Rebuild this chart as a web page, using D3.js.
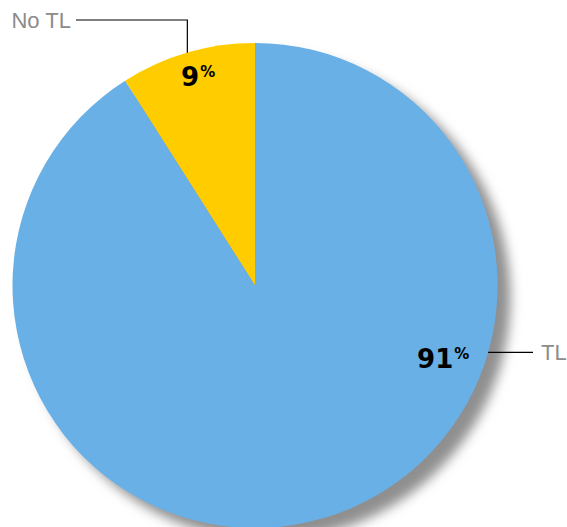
<!DOCTYPE html>
<html>
<head>
<meta charset="utf-8">
<script src="https://cdn.jsdelivr.net/npm/d3@7"></script>
<style>
  html, body { margin: 0; padding: 0; background: #fff; }
  svg { display: block; }
</style>
</head>
<body>
<svg id="chart" width="567" height="527"></svg>
<script>
// Share of responses
const categories = ["No TL", "TL"];
const values = [9, 91];
const colors = ["#FFCC00", "#68B0E5"];

const svg = d3.select("#chart");
const cx = 255, cy = 285.5, R = 242.5;

const defs = svg.append("defs");
const f = defs.append("filter").attr("id", "shadow")
  .attr("x", "-10%").attr("y", "-10%").attr("width", "130%").attr("height", "130%");
f.append("feDropShadow")
  .attr("dx", 13).attr("dy", 12).attr("stdDeviation", 6)
  .attr("flood-color", "#8f8f8f").attr("flood-opacity", 1);

const data = categories.map((c, i) => ({ name: c, value: values[i], color: colors[i] }));

// first slice ends at 12 o'clock, counter-clockwise from there
const total = d3.sum(values);
const startA = -2 * Math.PI * values[0] / total;
const pie = d3.pie().value(d => d.value).sort(null)
  .startAngle(startA).endAngle(startA + 2 * Math.PI);
const arcs = pie(data);
const arc = d3.arc().innerRadius(0).outerRadius(R);

const g = svg.append("g").attr("transform", `translate(${cx},${cy})`);
g.append("g").attr("filter", "url(#shadow)")
  .selectAll("path").data(arcs).join("path")
  .attr("d", arc)
  .attr("fill", d => d.data.color);

// label placement (radians clockwise from 12 o'clock)
const leaderAngle = [(arcs[0].startAngle + arcs[0].endAngle) / 2, 1.85];
const valueAngle = [-0.265, 1.943];
const valueRadius = [217, 202];
const polar = (a, r) => [Math.sin(a) * r, -Math.cos(a) * r];

arcs.forEach((d, i) => {
  const [vx, vy] = polar(valueAngle[i], valueRadius[i]);
  const t = g.append("text")
    .attr("x", vx).attr("y", vy + 9.5)
    .attr("text-anchor", "middle")
    .attr("font-family", "DejaVu Sans, sans-serif")
    .attr("fill", "#000");
  t.append("tspan").attr("font-size", 26).attr("font-weight", "bold")
    .text(d.data.value);
  t.append("tspan").attr("font-size", 15).attr("font-weight", "bold")
    .attr("dx", 1).attr("dy", -9).text("%");

  const a = leaderAngle[i];
  const [ex, ey] = polar(a, R);
  let pts, tx, ty, anchor;
  if (ex < 0) {
    // leader up then left
    const yTop = 20 - cy;
    pts = [[ex, ey], [ex, yTop], [76 - cx, yTop]];
    tx = 71 - cx; ty = yTop + 8; anchor = "end";
  } else {
    pts = [[ex, ey], [533 - cx, ey]];
    tx = 541 - cx; ty = ey + 8; anchor = "start";
  }
  g.append("path")
    .attr("d", d3.line()(pts))
    .attr("fill", "none").attr("stroke", "#000").attr("stroke-width", 1.2);
  g.append("text")
    .attr("x", tx).attr("y", ty)
    .attr("text-anchor", anchor)
    .attr("font-family", "Liberation Sans, Arial, sans-serif")
    .attr("font-size", 22)
    .attr("fill", "#8c8c8c")
    .text(d.data.name);
});
</script>
</body>
</html>
